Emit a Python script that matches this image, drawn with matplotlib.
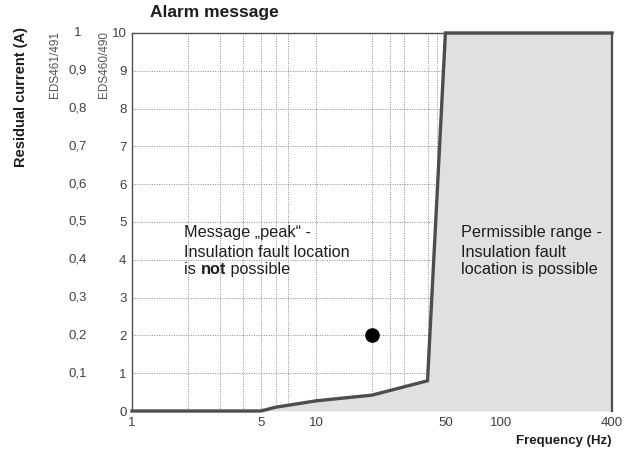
import matplotlib
matplotlib.use("Agg")
import matplotlib.pyplot as plt
import matplotlib.transforms as mtransforms

plt.rcParams.update({"font.family": ["Liberation Sans", "DejaVu Sans"], "font.size": 9})

# boundary curve (frequency Hz -> residual current, EDS460/490 scale)
freq = [1, 5, 6, 10, 20, 40, 50, 400]
current = [0, 0, 0.1, 0.27, 0.42, 0.8, 10, 10]
# measured point
pt_freq = [20]
pt_current = [2]

x_ticks = [1, 5, 10, 50, 100, 400]
y_ticks = list(range(0, 11))
grid_x = [2, 3, 4, 5, 6, 7, 10, 20, 25, 30, 40, 45]
# second scale (EDS461/491)
y2_pos = [10, 9, 8, 7, 6, 5, 4, 3, 2, 1]
y2_labels = ["1", "0,9", "0,8", "0,7", "0,6", "0,5", "0,4", "0,3", "0,2", "0,1"]

# note baselines (in current units)
note_rows = [4.60, 4.08, 3.62]
left_note = ["Message \u201epeak\u201c -", "Insulation fault location"]
right_note = ["Permissible range -", "Insulation fault", "location is possible"]

LINE = "#4d4d4d"
FILL = "#e0e0e0"
TXT = "#404040"
DARK = "#1e1e1e"
NOTE_FS = 11.7

fig = plt.figure(figsize=(6.28, 4.55), dpi=100)
ax = fig.add_axes([0.2102, 0.0967, 0.7643, 0.8308])
ax.set_xscale("log")
ax.set_xlim(1, 400)
ax.set_ylim(0, 10)

# dotted grid (hidden by the grey region)
for gx in grid_x:
    ax.axvline(gx, color="#8a8a8a", lw=0.7, ls=(0, (1, 1.5)), zorder=1)
for gy in y_ticks[1:]:
    ax.axhline(gy, color="#8a8a8a", lw=0.7, ls=(0, (1, 1.5)), zorder=1)

ax.fill_between(freq, current, 0, color=FILL, zorder=2, lw=0)
ax.plot(freq, current, color=LINE, lw=2.4, zorder=4, clip_on=False,
        solid_joinstyle="miter")
ax.plot(pt_freq, pt_current, "o", color="black", ms=9.5, zorder=5)

ax.set_xticks(x_ticks)
ax.set_xticklabels([str(v) for v in x_ticks])
ax.xaxis.set_minor_locator(plt.NullLocator())
ax.set_yticks(y_ticks)
ax.set_yticklabels([str(v) for v in y_ticks])
ax.tick_params(length=0, labelsize=9.5, colors=TXT)
ax.tick_params(axis="x", pad=4)
ax.tick_params(axis="y", pad=4)

for s in ("left", "top", "right"):
    ax.spines[s].set_color(LINE)
    ax.spines[s].set_linewidth(1.0)
ax.spines["right"].set_linewidth(1.6)
ax.spines["bottom"].set_visible(False)

# second scale labels
tr = mtransforms.blended_transform_factory(fig.transFigure, ax.transData)
for pos, lab in zip(y2_pos, y2_labels):
    ax.text(78 / 628, pos, lab, transform=tr, ha="center", va="center",
            fontsize=9.5, color=TXT)

fig.text(104 / 628, 1 - 64 / 455, "EDS460/490", rotation=90, ha="center", va="center",
         fontsize=8.5, color="#555555")
fig.text(55 / 628, 1 - 64 / 455, "EDS461/491", rotation=90, ha="center", va="center",
         fontsize=8.5, color="#555555")
fig.text(21 / 628, 1 - 97 / 455, "Residual current (A)", rotation=90, ha="center",
         va="center", fontsize=10.5, fontweight="bold", color=DARK)
fig.text(150 / 628, 1 - 13 / 455, "Alarm message", ha="left", va="center",
         fontsize=12.5, fontweight="bold", color=DARK)
fig.text(612 / 628, 1 - 441 / 455, "Frequency (Hz)", ha="right", va="center",
         fontsize=9.5, fontweight="bold", color=DARK)

# region notes
for yy, line in zip(note_rows, left_note):
    ax.text(1.92, yy, line, ha="left", va="baseline", fontsize=NOTE_FS,
            color=DARK, zorder=6)
t_is = ax.text(1.92, note_rows[2], "is ", ha="left", va="baseline",
               fontsize=NOTE_FS, color=DARK, zorder=6)
t_not = ax.annotate("not", xy=(1, 0), xycoords=t_is, ha="left", va="bottom",
                    fontsize=NOTE_FS, color=DARK, fontweight="bold", zorder=6)
ax.annotate(" possible", xy=(1, 0), xycoords=t_not, ha="left", va="bottom",
            fontsize=NOTE_FS, color=DARK, zorder=6)
for yy, line in zip(note_rows, right_note):
    ax.text(61, yy, line, ha="left", va="baseline", fontsize=NOTE_FS,
            color=DARK, zorder=6)

fig.savefig("out.png", dpi=100)
